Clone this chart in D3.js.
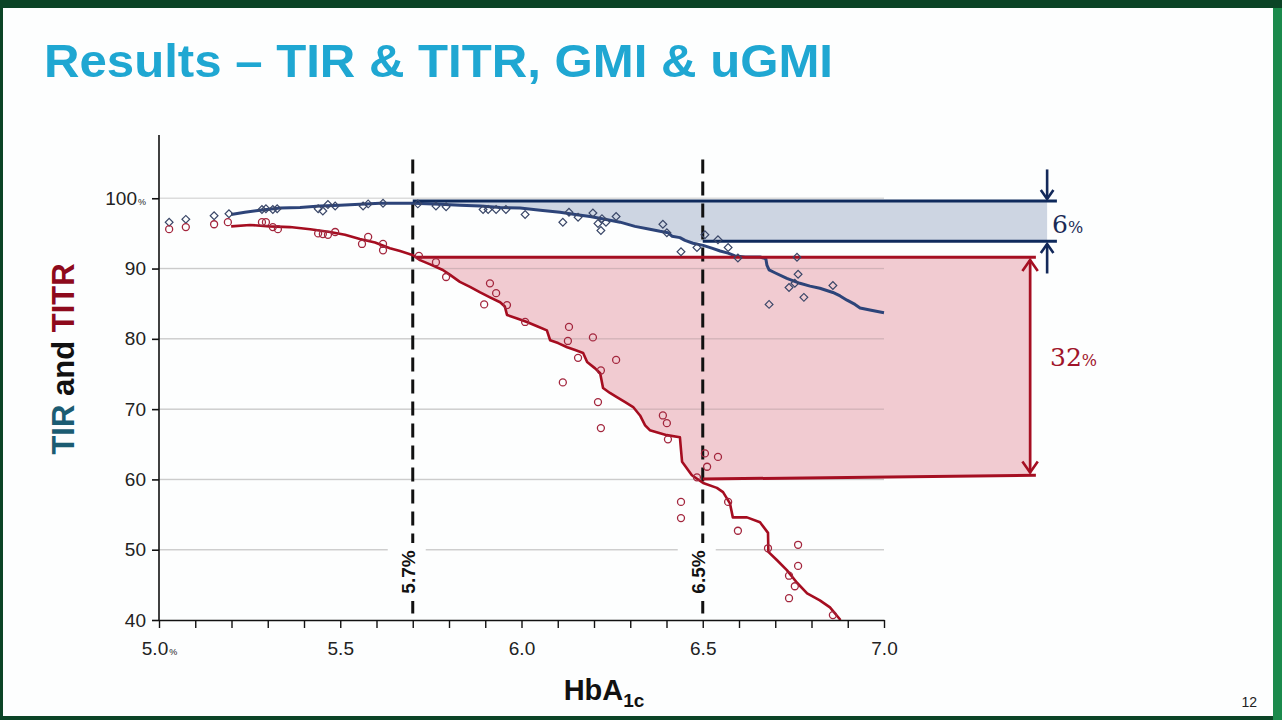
<!DOCTYPE html>
<html lang="en">
<head>
<meta charset="utf-8">
<title>Results – TIR &amp; TITR, GMI &amp; uGMI</title>
<script src="https://cdn.jsdelivr.net/npm/d3@7"></script>
<style>
  body { margin: 0; background: #0b4426; overflow: hidden; }
  svg { display: block; }
  .tick text { font-family: "Liberation Sans", Arial, sans-serif; font-size: 19px; fill: #222; }
</style>
</head>
<body>
<script>
// ---- data ----
// HbA1c (%) vs TIR, running curve
var tirCurve = [
  [5.199,97.7],[5.237,98.0],[5.279,98.3],[5.334,98.6],[5.389,98.7],[5.444,98.9],[5.499,99.0],
  [5.554,99.15],[5.610,99.3],[5.701,99.3],[5.775,99.15],[5.830,99.0],[5.886,98.9],[5.941,98.7],
  [5.996,98.6],[6.052,98.3],[6.106,98.0],[6.148,97.7],[6.189,97.4],[6.230,97.0],[6.272,96.6],
  [6.313,96.0],[6.354,95.6],[6.382,95.3],[6.404,95.1],[6.415,94.6],[6.437,94.4],[6.451,94.0],
  [6.473,93.6],[6.501,93.3],[6.525,92.9],[6.548,92.5],[6.570,92.2],[6.589,91.8],[6.617,91.65],
  [6.658,91.65],[6.674,91.4],[6.677,90.5],[6.683,89.8],[6.699,89.4],[6.732,88.6],[6.768,87.9],
  [6.796,87.5],[6.823,87.2],[6.859,86.6],[6.879,86.1],[6.898,85.5],[6.920,84.9],[6.934,84.4],
  [6.961,84.1],[7.000,83.7]
];
// HbA1c (%) vs TITR, running curve
var titrCurve = [
  [5.199,96.0],[5.251,96.2],[5.306,96.0],[5.361,95.9],[5.417,95.6],[5.472,95.2],[5.513,94.8],
  [5.554,94.2],[5.596,93.7],[5.637,92.9],[5.665,92.5],[5.701,91.9],[5.720,91.2],[5.748,90.6],
  [5.783,89.8],[5.803,89.1],[5.830,88.1],[5.858,87.4],[5.886,86.6],[5.913,85.9],[5.941,85.2],
  [5.954,84.6],[5.960,83.4],[5.988,82.9],[6.015,82.4],[6.043,81.8],[6.070,81.2],[6.079,79.8],
  [6.101,79.4],[6.126,78.8],[6.148,78.4],[6.170,78.0],[6.181,76.7],[6.203,75.8],[6.217,75.1],
  [6.225,73.0],[6.244,72.3],[6.263,71.7],[6.286,71.0],[6.308,70.3],[6.327,69.1],[6.341,67.7],
  [6.354,67.0],[6.401,66.3],[6.437,66.0],[6.440,64.2],[6.443,62.5],[6.470,60.6],[6.501,59.5],
  [6.539,58.8],[6.556,58.2],[6.575,56.6],[6.583,54.6],[6.622,54.6],[6.658,53.9],[6.680,52.4],
  [6.681,49.7],[6.705,48.5],[6.732,47.1],[6.760,45.3],[6.788,43.8],[6.823,42.8],[6.851,41.8],
  [6.880,40.0]
];
// individual subjects
var tirPoints = [
  [5.028,96.6],[5.074,97.0],[5.152,97.5],[5.193,97.8],[5.284,98.4],[5.295,98.5],[5.314,98.4],
  [5.326,98.5],[5.439,98.5],[5.452,98.2],[5.466,99.1],[5.486,98.9],[5.563,98.9],[5.577,99.2],
  [5.618,99.3],[5.714,99.2],[5.764,98.9],[5.792,98.8],[5.894,98.4],[5.908,98.4],[5.930,98.4],
  [5.957,98.4],[6.010,97.7],[6.114,96.6],[6.131,98.0],[6.156,97.3],[6.197,97.9],[6.211,96.4],
  [6.222,97.1],[6.219,95.4],[6.233,96.6],[6.261,97.4],[6.390,96.3],[6.401,95.1],[6.440,92.4],
  [6.484,93.0],[6.506,94.8],[6.542,94.1],[6.570,93.0],[6.597,91.5],[6.760,91.6],[6.763,89.2],
  [6.738,87.3],[6.754,87.9],[6.779,85.9],[6.859,87.6],[6.683,84.9]
];
var titrPoints = [
  [5.028,95.6],[5.074,95.9],[5.152,96.3],[5.190,96.6],[5.284,96.6],[5.295,96.6],[5.314,95.9],
  [5.328,95.6],[5.439,95.0],[5.452,94.9],[5.466,94.8],[5.486,95.2],[5.560,93.5],[5.577,94.5],
  [5.618,93.5],[5.618,92.6],[5.717,91.8],[5.764,90.9],[5.792,88.8],[5.913,87.9],[5.930,86.5],
  [5.897,84.9],[5.960,84.8],[6.010,82.4],[6.131,81.7],[6.128,79.7],[6.197,80.2],[6.156,77.3],
  [6.261,77.0],[6.114,73.8],[6.219,75.5],[6.211,71.0],[6.219,67.3],[6.390,69.1],[6.401,68.0],
  [6.404,65.7],[6.506,63.7],[6.542,63.2],[6.512,61.8],[6.484,60.3],[6.440,56.8],[6.440,54.5],
  [6.570,56.8],[6.597,52.7],[6.680,50.2],[6.763,50.7],[6.763,47.7],[6.738,46.3],[6.754,44.8],
  [6.738,43.1],[6.859,40.7]
];
var thresholds = [5.7, 6.5];
var thresholdLabels = ["5.7%", "6.5%"];
var xTicks = [5.0, 5.5, 6.0, 6.5, 7.0];
var yTicks = [40, 50, 60, 70, 80, 90, 100];
// gap bands: [HbA1c, value]
var tirTopLine = [[5.70, 99.6], [7.477, 99.6]];
var tirBottomLine = [[6.50, 93.9], [7.477, 93.9]];
var titrTopLine = [[5.71, 91.6], [7.419, 91.6]];
var titrBottomLine = [[6.50, 60.05], [7.419, 60.6]];
var tirFillEnd = 7.45, titrFillEnd = 7.408;
var gapLabels = ["6", "32"];

// ---- layout ----
var w = 1282, h = 720;
var svg = d3.select("body").append("svg").attr("width", w).attr("height", h);

// slide
svg.append("rect").attr("x", 0).attr("y", 0).attr("width", w).attr("height", h).attr("fill", "#0b4426");
svg.append("rect").attr("x", 1273).attr("y", 8).attr("width", 9).attr("height", h - 8).attr("fill", "#1b8a4c");
svg.append("rect").attr("x", 3).attr("y", 8).attr("width", 1270).attr("height", 708).attr("fill", "#fdfefe");

svg.append("text")
  .attr("x", 44).attr("y", 77)
  .attr("font-family", "Liberation Sans, Arial, sans-serif")
  .attr("font-weight", "bold").attr("font-size", 47)
  .attr("textLength", 789).attr("lengthAdjust", "spacingAndGlyphs")
  .attr("fill", "#1fa7d2")
  .text("Results – TIR & TITR, GMI & uGMI");

svg.append("text")
  .attr("x", 1257).attr("y", 707).attr("text-anchor", "end")
  .attr("font-family", "Liberation Sans, Arial, sans-serif").attr("font-size", 14)
  .attr("fill", "#222").text("12");

// scales
var x = d3.scaleLinear().domain([5, 7]).range([159, 884]);
var y = d3.scaleLinear().domain([40, 109]).range([620, 135]);

var line = d3.line().x(function(d) { return x(d[0]); }).y(function(d) { return y(d[1]); });

// gridlines
svg.append("g").selectAll("line")
  .data(yTicks.filter(function(d) { return d > 40; }))
  .enter().append("line")
  .attr("x1", x(5)).attr("x2", x(7))
  .attr("y1", function(d) { return y(d); }).attr("y2", function(d) { return y(d); })
  .attr("stroke", "#dcdcdc").attr("stroke-width", 1.5);

// band fills
function bandPolygon(curve, top, bottom, xEnd) {
  var pts = [[top[0][0], top[0][1]], [xEnd, top[0][1]]];
  var bEnd = bottom[0][1] + (bottom[1][1] - bottom[0][1]) * (xEnd - bottom[0][0]) / (bottom[1][0] - bottom[0][0]);
  pts.push([xEnd, bEnd]);
  pts.push([bottom[0][0], bottom[0][1]]);
  var seg = curve.filter(function(d) { return d[0] >= top[0][0] && d[0] <= bottom[0][0]; }).slice().reverse();
  return pts.concat(seg);
}
svg.append("path")
  .attr("d", line(bandPolygon(tirCurve, tirTopLine, tirBottomLine, tirFillEnd)) + "Z")
  .attr("fill", "#c4cedd").attr("fill-opacity", 0.85);
svg.append("path")
  .attr("d", line(bandPolygon(titrCurve, titrTopLine, titrBottomLine, titrFillEnd)) + "Z")
  .attr("fill", "#e9a9b2").attr("fill-opacity", 0.6);

// gridlines faintly on top of the fills
svg.append("g").selectAll("line")
  .data(yTicks.filter(function(d) { return d > 40 && d < 100; }))
  .enter().append("line")
  .attr("x1", x(5)).attr("x2", x(7))
  .attr("y1", function(d) { return y(d); }).attr("y2", function(d) { return y(d); })
  .attr("stroke", "#999").attr("stroke-opacity", 0.25).attr("stroke-width", 1);

// threshold dashed lines
svg.append("g").selectAll("line")
  .data(thresholds).enter().append("line")
  .attr("x1", function(d) { return x(d); }).attr("x2", function(d) { return x(d); })
  .attr("y1", y(105.5)).attr("y2", y(40))
  .attr("stroke", "#111").attr("stroke-width", 3).attr("stroke-dasharray", "14,8");

// curves
svg.append("path").attr("d", line(tirCurve)).attr("fill", "none")
  .attr("stroke", "#2d4479").attr("stroke-width", 3).attr("stroke-linejoin", "round");
svg.append("path").attr("d", line(titrCurve)).attr("fill", "none")
  .attr("stroke", "#a50d20").attr("stroke-width", 2.6).attr("stroke-linejoin", "round");

// band edge lines
[[tirTopLine, "#0f2a5c"], [tirBottomLine, "#0f2a5c"], [titrTopLine, "#a50f22"], [titrBottomLine, "#a50f22"]]
  .forEach(function(p) {
    svg.append("path").attr("d", line(p[0])).attr("fill", "none")
      .attr("stroke", p[1]).attr("stroke-width", 3);
  });

// points
svg.append("g").selectAll("path")
  .data(tirPoints).enter().append("path")
  .attr("d", d3.symbol().type(d3.symbolSquare).size(30))
  .attr("transform", function(d) { return "translate(" + x(d[0]) + "," + y(d[1]) + ") rotate(45)"; })
  .attr("fill", "none").attr("stroke", "#3a4768").attr("stroke-width", 1.2);
svg.append("g").selectAll("circle")
  .data(titrPoints).enter().append("circle")
  .attr("cx", function(d) { return x(d[0]); }).attr("cy", function(d) { return y(d[1]); })
  .attr("r", 3.5)
  .attr("fill", "none").attr("stroke", "#a3263d").attr("stroke-width", 1.3);

// threshold labels on white patches
thresholds.forEach(function(t, i) {
  var cx = x(t) - 5, cy = 572;
  svg.append("rect").attr("x", cx - 20).attr("y", cy - 29).attr("width", 38).attr("height", 58).attr("fill", "#fdfefe");
  svg.append("text")
    .attr("transform", "translate(" + (cx + 7) + "," + cy + ") rotate(-90)")
    .attr("text-anchor", "middle")
    .attr("font-family", "Liberation Sans, Arial, sans-serif").attr("font-weight", "bold").attr("font-size", 19)
    .attr("fill", "#111").text(thresholdLabels[i]);
});

// axes
var yAxis = d3.axisLeft(y).tickValues(yTicks).tickSize(7).tickPadding(6)
  .tickFormat(function(d) { return d; });
var gy = svg.append("g").attr("transform", "translate(" + x(5) + ",0)").call(yAxis);
gy.select(".domain").attr("stroke", "#111").attr("stroke-width", 1.6).attr("d", "M0," + y(109) + "V" + y(40));
gy.selectAll(".tick line").attr("stroke", "#111").attr("stroke-width", 1.6);
gy.selectAll(".tick text").filter(function(d) { return d === 100; })
  .text("100").append("tspan").attr("font-size", 9).attr("dx", 1).text("%");

var xAxis = d3.axisBottom(x).tickValues(d3.range(50, 71).map(function(d) { return d / 10; }))
  .tickSize(8).tickSizeOuter(0).tickPadding(14)
  .tickFormat(function(d) { return xTicks.indexOf(Math.round(d * 10) / 10) >= 0 ? d3.format(".1f")(d) : ""; });
var gx = svg.append("g").attr("transform", "translate(0," + y(40) + ")").call(xAxis);
gx.select(".domain").attr("stroke", "#111").attr("stroke-width", 1.6);
gx.selectAll(".tick line").attr("stroke", "#111").attr("stroke-width", 1.4);
gx.selectAll(".tick text").filter(function(d) { return Math.abs(d - 5) < 1e-9; })
  .append("tspan").attr("font-size", 9).attr("dx", 1).text("%");

// axis titles
var yl = svg.append("text")
  .attr("transform", "translate(74,359) rotate(-90)")
  .attr("text-anchor", "middle")
  .attr("font-family", "Liberation Sans, Arial, sans-serif").attr("font-weight", "bold").attr("font-size", 31);
yl.append("tspan").attr("fill", "#1b5c72").text("TIR");
yl.append("tspan").attr("fill", "#111").text(" and ");
yl.append("tspan").attr("fill", "#8e0a1c").text("TITR");

var xl = svg.append("text")
  .attr("x", 604).attr("y", 700).attr("text-anchor", "middle")
  .attr("font-family", "Liberation Sans, Arial, sans-serif").attr("font-weight", "bold").attr("font-size", 29)
  .attr("fill", "#111");
xl.append("tspan").text("HbA");
xl.append("tspan").attr("font-size", 19).attr("dy", 7).text("1c");

// gap arrows
function head(px, py, dir, color, size) {
  // dir: +1 points down, -1 points up
  svg.append("path")
    .attr("d", "M" + (px - size * 0.7) + "," + (py - dir * size) + "L" + px + "," + py + "L" + (px + size * 0.7) + "," + (py - dir * size))
    .attr("fill", "none").attr("stroke", color).attr("stroke-width", 2.6);
}
var ax = x(tirFillEnd);
svg.append("line").attr("x1", ax).attr("x2", ax).attr("y1", y(104.1)).attr("y2", y(99.9))
  .attr("stroke", "#13295a").attr("stroke-width", 2.6);
head(ax, y(99.9), 1, "#13295a", 9);
svg.append("line").attr("x1", ax).attr("x2", ax).attr("y1", y(89.3)).attr("y2", y(93.5))
  .attr("stroke", "#13295a").attr("stroke-width", 2.6);
head(ax, y(93.5), -1, "#13295a", 9);

var rx = x(7.403);
svg.append("line").attr("x1", rx).attr("x2", rx).attr("y1", y(91.2)).attr("y2", y(61.0))
  .attr("stroke", "#a50f22").attr("stroke-width", 2.6);
head(rx, y(91.2), -1, "#a50f22", 11);
head(rx, y(61.0), 1, "#a50f22", 11);

// gap labels
function gapLabel(px, py, txt, color) {
  var t = svg.append("text").attr("x", px).attr("y", py)
    .attr("font-family", "DejaVu Serif, Liberation Serif, serif").attr("font-size", 25).attr("fill", color);
  t.append("tspan").text(txt);
  t.append("tspan").attr("font-size", 16).text("%");
}
gapLabel(1052, 233, gapLabels[0], "#1a2a55");
gapLabel(1050, 366, gapLabels[1], "#a0142a");
</script>
</body>
</html>
